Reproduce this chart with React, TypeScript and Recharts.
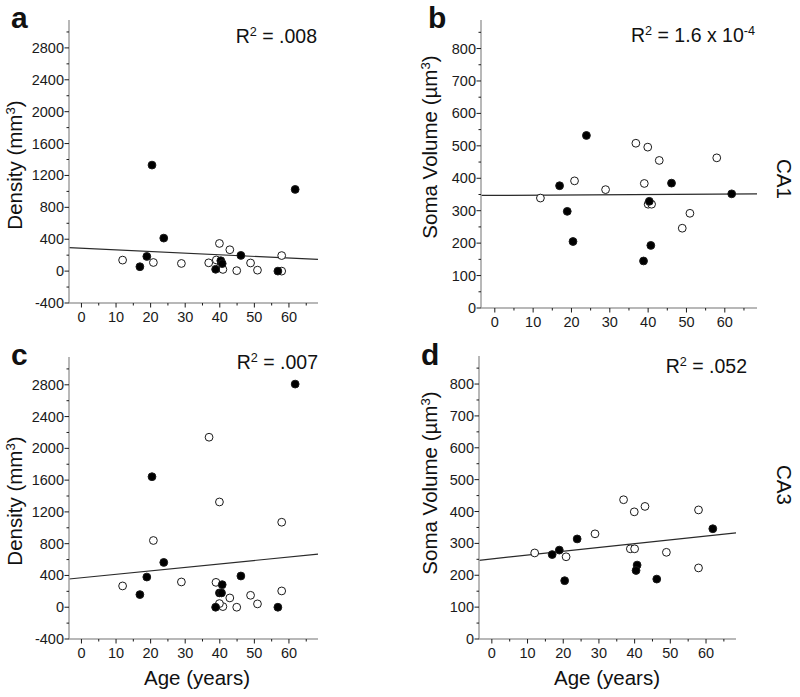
import React from "react"
import { ReferenceLine, Scatter, ScatterChart, XAxis, YAxis } from "recharts"

// ages along x, shared by all four panels
const ageTicks = [0, 10, 20, 30, 40, 50, 60]
const ageMinorTicks = [5, 15, 25, 35, 45, 55, 65]
const ageDomain = [-3.6, 68.4]

const densityTicks = [-400, 0, 400, 800, 1200, 1600, 2000, 2400, 2800]
const densityMinorTicks = [-200, 200, 600, 1000, 1400, 1800, 2200, 2600, 3000]
const densityDomain = [-400, 3150]

const somaTicks = [0, 100, 200, 300, 400, 500, 600, 700, 800]
const somaMinorTicks = [50, 150, 250, 350, 450, 550, 650, 750, 850]
const somaDomain = [0, 888]

// panel a: CA1 density
const aFilled = [
  { age: 20.4, v: 1330 }, { age: 61.8, v: 1025 }, { age: 23.8, v: 414 }, { age: 18.9, v: 184 },
  { age: 16.9, v: 55 }, { age: 46.1, v: 197 }, { age: 40.3, v: 130 }, { age: 40.7, v: 94 },
  { age: 38.8, v: 23 }, { age: 56.8, v: 0 },
]
const aOpen = [
  { age: 11.9, v: 138 }, { age: 20.8, v: 108 }, { age: 28.9, v: 96 }, { age: 36.8, v: 104 },
  { age: 39.0, v: 140 }, { age: 39.9, v: 347 }, { age: 42.9, v: 268 }, { age: 40.0, v: 42 },
  { age: 40.9, v: 21 }, { age: 44.9, v: 6 }, { age: 48.9, v: 102 }, { age: 50.9, v: 12 },
  { age: 57.9, v: 195 }, { age: 57.9, v: 0 },
]
const aFit = [{ age: -3.6, v: 294 }, { age: 68.4, v: 147 }]

// panel b: CA1 soma volume
const bFilled = [
  { age: 23.9, v: 532 }, { age: 16.9, v: 377 }, { age: 18.9, v: 298 }, { age: 20.4, v: 205 },
  { age: 46.1, v: 385 }, { age: 61.8, v: 352 }, { age: 40.3, v: 329 }, { age: 40.7, v: 193 },
  { age: 38.8, v: 145 },
]
const bOpen = [
  { age: 11.9, v: 339 }, { age: 20.8, v: 392 }, { age: 28.9, v: 365 }, { age: 36.8, v: 508 },
  { age: 39.9, v: 496 }, { age: 42.9, v: 455 }, { age: 39.0, v: 384 }, { age: 40.0, v: 320 },
  { age: 40.9, v: 320 }, { age: 48.9, v: 246 }, { age: 50.9, v: 292 }, { age: 57.9, v: 463 },
]
const bFit = [{ age: -3.6, v: 347 }, { age: 68.4, v: 352 }]

// panel c: CA3 density
const cFilled = [
  { age: 61.8, v: 2809 }, { age: 20.4, v: 1643 }, { age: 23.8, v: 564 }, { age: 18.9, v: 380 },
  { age: 16.9, v: 159 }, { age: 46.1, v: 393 }, { age: 40.7, v: 284 }, { age: 39.9, v: 180 },
  { age: 40.5, v: 180 }, { age: 38.8, v: 0 }, { age: 56.8, v: 0 },
]
const cOpen = [
  { age: 36.9, v: 2140 }, { age: 39.9, v: 1325 }, { age: 57.9, v: 1070 }, { age: 20.8, v: 840 },
  { age: 11.9, v: 268 }, { age: 28.9, v: 318 }, { age: 38.9, v: 313 }, { age: 57.9, v: 205 },
  { age: 42.9, v: 117 }, { age: 48.9, v: 150 }, { age: 50.9, v: 42 }, { age: 44.9, v: 0 },
  { age: 40.9, v: 8 }, { age: 39.9, v: 46 },
]
const cFit = [{ age: -3.6, v: 355 }, { age: 68.4, v: 669 }]

// panel d: CA3 soma volume
const dFilled = [
  { age: 16.9, v: 265 }, { age: 18.9, v: 279 }, { age: 23.9, v: 314 }, { age: 20.4, v: 183 },
  { age: 40.7, v: 232 }, { age: 40.4, v: 215 }, { age: 46.2, v: 188 }, { age: 61.9, v: 346 },
]
const dOpen = [
  { age: 12.0, v: 270 }, { age: 20.8, v: 258 }, { age: 28.9, v: 330 }, { age: 36.9, v: 437 },
  { age: 39.9, v: 399 }, { age: 42.9, v: 416 }, { age: 38.8, v: 283 }, { age: 40.0, v: 283 },
  { age: 48.9, v: 272 }, { age: 57.9, v: 405 }, { age: 57.9, v: 223 },
]
const dFit = [{ age: -3.6, v: 247 }, { age: 68.4, v: 333 }]

const FONT = "'Liberation Sans', Arial, sans-serif"
const AXIS = "#a0a0a0"
const INK = "#1a1a1a"

function YTick(props: any) {
  const { x, y, payload, majors } = props
  const major = majors.includes(payload.value)
  if (!major) return <line x1={x} x2={x - 2.5} y1={y} y2={y} stroke={INK} strokeWidth={1} />
  return (
    <g>
      <line x1={x} x2={x - 4.5} y1={y} y2={y} stroke={INK} strokeWidth={1} />
      <text x={x - 5} y={y} dy={5} textAnchor="end" fontSize={14.5} fontFamily={FONT} fill={INK}>
        {payload.value}
      </text>
    </g>
  )
}

function XTick(props: any) {
  const { x, y, payload } = props
  const major = ageTicks.includes(payload.value)
  if (!major) return <line x1={x} x2={x} y1={y} y2={y + 2.5} stroke={INK} strokeWidth={1} />
  return (
    <g>
      <line x1={x} x2={x} y1={y} y2={y + 4.5} stroke={INK} strokeWidth={1} />
      <text x={x} y={y + 19} textAnchor="middle" fontSize={14.5} fontFamily={FONT} fill={INK}>
        {payload.value}
      </text>
    </g>
  )
}

const dot = (fill: string) => (p: any) =>
  <circle cx={p.cx} cy={p.cy} r={3.9} fill={fill} stroke={INK} strokeWidth={1} />

type PanelProps = {
  left: number
  top: number
  width: number
  height: number
  margin: { top: number; right: number; bottom: number; left: number }
  yWidth: number
  yDomain: number[]
  yMajor: number[]
  yMinor: number[]
  filled: { age: number; v: number }[]
  open: { age: number; v: number }[]
  fit: { age: number; v: number }[]
}

function Panel(p: PanelProps) {
  return (
    <div style={{ position: "absolute", left: p.left, top: p.top }}>
      <ScatterChart width={p.width} height={p.height} margin={p.margin}>
        <XAxis
          type="number"
          dataKey="age"
          domain={ageDomain}
          allowDataOverflow
          ticks={[...ageTicks, ...ageMinorTicks]}
          interval={0}
          height={30}
          tickSize={0}
          tickMargin={0}
          tickLine={false}
          axisLine={{ stroke: AXIS, strokeWidth: 1.5 }}
          tick={(t: any) => <XTick {...t} />}
        />
        <YAxis
          type="number"
          dataKey="v"
          domain={p.yDomain}
          allowDataOverflow
          ticks={[...p.yMajor, ...p.yMinor]}
          interval={0}
          width={p.yWidth}
          tickSize={0}
          tickMargin={0}
          tickLine={false}
          axisLine={{ stroke: AXIS, strokeWidth: 1.5 }}
          tick={(t: any) => <YTick {...t} majors={p.yMajor} />}
        />
        <ReferenceLine
          segment={[{ x: p.fit[0].age, y: p.fit[0].v }, { x: p.fit[1].age, y: p.fit[1].v }]}
          stroke="#2a2a2a"
          strokeWidth={1.2}
          ifOverflow="visible"
        />
        <Scatter data={p.open} shape={dot("#ffffff")} isAnimationActive={false} />
        <Scatter data={p.filled} shape={dot("#000000")} isAnimationActive={false} />
      </ScatterChart>
    </div>
  )
}

function Sup({ children }: { children: React.ReactNode }) {
  return <tspan dy={-7} fontSize="0.65em">{children}</tspan>
}

export default function App() {
  const t = { fontFamily: FONT, fill: "#111" }
  return (
    <div style={{ position: "absolute", left: 0, top: 0, width: 800, height: 697, background: "#fff" }}>
      <Panel left={0} top={0} width={400} height={340} margin={{ top: 20, right: 82, bottom: 7, left: 0 }}
        yWidth={69} yDomain={densityDomain} yMajor={densityTicks} yMinor={densityMinorTicks}
        filled={aFilled} open={aOpen} fit={aFit} />
      <Panel left={400} top={0} width={400} height={340} margin={{ top: 20, right: 43, bottom: 2, left: 0 }}
        yWidth={81} yDomain={somaDomain} yMajor={somaTicks} yMinor={somaMinorTicks}
        filled={bFilled} open={bOpen} fit={bFit} />
      <Panel left={0} top={340} width={400} height={357} margin={{ top: 17, right: 82, bottom: 28, left: 0 }}
        yWidth={69} yDomain={densityDomain} yMajor={densityTicks} yMinor={densityMinorTicks}
        filled={cFilled} open={cOpen} fit={cFit} />
      <Panel left={400} top={340} width={400} height={357} margin={{ top: 16, right: 64, bottom: 28, left: 0 }}
        yWidth={79} yDomain={somaDomain} yMajor={somaTicks} yMinor={somaMinorTicks}
        filled={dFilled} open={dOpen} fit={dFit} />

      <svg width={800} height={697} style={{ position: "absolute", left: 0, top: 0, pointerEvents: "none" }}>
        <g {...t} fontWeight="bold" fontSize={30}>
          <text x={11} y={28}>a</text>
          <text x={428} y={28}>b</text>
          <text x={11} y={365}>c</text>
          <text x={421} y={365}>d</text>
        </g>
        <g {...t} fontSize={20.5} textAnchor="middle">
          <text transform="translate(22,165) rotate(-90)">Density (mm<Sup>3</Sup><tspan dy={7}>)</tspan></text>
          <text transform="translate(22,501) rotate(-90)">Density (mm<Sup>3</Sup><tspan dy={7}>)</tspan></text>
          <text transform="translate(437,147) rotate(-90)">Soma Volume (µm<Sup>3</Sup><tspan dy={7}>)</tspan></text>
          <text transform="translate(437,483) rotate(-90)">Soma Volume (µm<Sup>3</Sup><tspan dy={7}>)</tspan></text>
          <text x={197} y={685}>Age (years)</text>
          <text x={607} y={685}>Age (years)</text>
          <text transform="translate(777,179) rotate(90)">CA1</text>
          <text transform="translate(777,485) rotate(90)">CA3</text>
        </g>
        <g {...t} fontSize={19.5}>
          <text x={317} y={43} textAnchor="end">R<Sup>2</Sup><tspan dy={7}> = .008</tspan></text>
          <text x={631} y={42}>R<Sup>2</Sup><tspan dy={7}> = 1.6 x 10</tspan><Sup>-4</Sup></text>
          <text x={318} y={369} textAnchor="end">R<Sup>2</Sup><tspan dy={7}> = .007</tspan></text>
          <text x={747} y={373} textAnchor="end">R<Sup>2</Sup><tspan dy={7}> = .052</tspan></text>
        </g>
      </svg>
    </div>
  )
}
